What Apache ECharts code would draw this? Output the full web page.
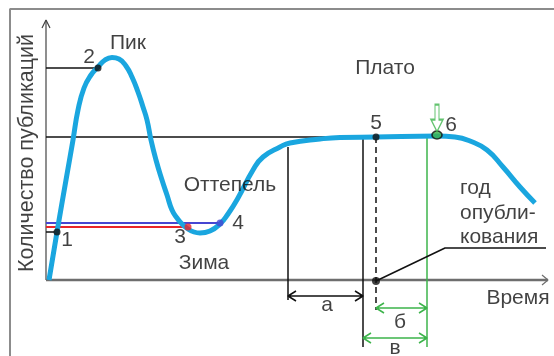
<!DOCTYPE html>
<html>
<head>
<meta charset="utf-8">
<script src="https://cdn.jsdelivr.net/npm/echarts@6/dist/echarts.min.js"></script>
<style>
  html, body { margin: 0; padding: 0; background: #fff; }
  #chart { width: 554px; height: 356px; }
</style>
</head>
<body>
<div id="chart"></div>
<script>
// life cycle curve of a topic: time vs number of publications
var curveTime  = [3, 11, 20, 27, 32, 38, 45, 52, 59, 66, 73, 80, 86, 92, 97, 101, 105, 110, 116, 121,
                  126, 131, 136, 142, 148, 154, 164, 174, 182, 192, 207, 217, 234, 244, 274, 294, 330, 391,
                  409, 424, 441, 457, 474, 489];
var curveCount = [0, 48, 100, 140, 170, 192, 205, 213, 220, 222.5, 221, 214, 203, 188, 173, 160, 140, 120, 100, 85,
                  70, 62, 56, 51, 48, 47, 49, 56, 66, 82, 110, 123, 133, 137, 141, 142.5, 143, 144,
                  143, 139, 130, 113, 93, 77];

// numbered points on the curve
var pointNames = ['1', '2', '3', '4', '5', '6'];
var pointTime  = [11, 52, 142, 174, 330, 391];
var pointCount = [48, 212, 53, 57, 143, 145];

// intervals under the axis
var spanNames = ['а', 'б', 'в'];
var spanFrom  = [242, 330, 317];
var spanTo    = [317, 381, 381];

var phaseNames = ['Пик', 'Зима', 'Оттепель', 'Плато'];
var axisNames  = ['Количество публикаций', 'Время'];
var yearLines  = ['год', 'опубли-', 'кования'];

var BLUE = '#1aa6df', GREEN = '#3cb44b', RED = '#e8262a', VIOLET = '#4646d2', INK = '#111';
var FONT = 'Liberation Sans, Arial, sans-serif';

function poly(pts, color, width, dash, z) {
  return {
    type: 'line', data: pts, symbol: 'none', showSymbol: false, silent: true, clip: false,
    lineStyle: { color: color, width: width, type: dash ? [6, 4] : 'solid' },
    z: z || 2
  };
}
function dblArrow(x1, x2, y, color) {
  var h = 8, w = 5;
  return poly([[x1 + h, y + w], [x1, y], [x1 + h, y - w], [x1, y], [x2, y],
               [x2 - h, y + w], [x2, y], [x2 - h, y - w]], color, 1.5);
}

var curve = curveTime.map(function (t, i) { return [t, curveCount[i]]; });
var dotColors = [INK, INK, RED, VIOLET, INK, GREEN];

var series = [];
// picture frame (left and top edges)
series.push(poly([[-36, -80], [-36, 271], [512, 271]], '#8c8c8c', 2, false, 1));
// axes
series.push(poly([[0, 0], [0, 260]], '#444', 1.2));
series.push(poly([[-4, 252], [0, 260], [4, 252]], '#444', 1.2));
series.push(poly([[0, 0], [502, 0]], '#6e6e6e', 2.5));
series.push(poly([[496, 5], [502, 0], [496, -5]], '#6e6e6e', 1.2));
// levels
series.push(poly([[0, pointCount[1]], [pointTime[1], pointCount[1]]], INK, 1.5));
series.push(poly([[0, pointCount[4]], [pointTime[5], pointCount[4]]], INK, 1.5));
series.push(poly([[0, pointCount[0]], [pointTime[0], pointCount[0]]], INK, 1.5));
series.push(poly([[0, pointCount[2]], [pointTime[2], pointCount[2]]], RED, 2));
series.push(poly([[0, pointCount[3]], [pointTime[3], pointCount[3]]], VIOLET, 2));
// verticals
series.push(poly([[spanFrom[0], 133], [spanFrom[0], -20]], INK, 1.5));
series.push(poly([[spanTo[0], pointCount[4]], [spanTo[0], -67]], INK, 1.5));
series.push(poly([[pointTime[4], pointCount[4]], [pointTime[4], -30]], INK, 1.5, true));
series.push(poly([[spanTo[1], pointCount[4]], [spanTo[1], -67]], GREEN, 1.5));
// leader to "год опубликования"
series.push(poly([[pointTime[4], -1], [399, 32], [500, 32]], INK, 1.5));
// interval arrows
series.push(dblArrow(spanFrom[0], spanTo[0], -16, INK));
series.push(dblArrow(spanFrom[1], spanTo[1], -28, GREEN));
series.push(dblArrow(spanFrom[2], spanTo[2], -58, GREEN));
// the curve
series.push({
  type: 'line', data: curve, smooth: 0.5, symbol: 'none', silent: true,
  lineStyle: { color: BLUE, width: 5 }, z: 3
});
// dots
series.push({
  type: 'scatter', silent: true, z: 5, symbolSize: 7,
  data: pointTime.map(function (t, i) {
    return { value: [t, pointCount[i]], itemStyle: {
      color: dotColors[i], borderColor: INK, borderWidth: i === 5 ? 1.5 : 0 },
      symbolSize: i === 5 ? [10, 8] : 7 };
  }).concat([{ value: [pointTime[4], -1], itemStyle: { color: INK }, symbolSize: 8 }])
});
// green marker arrow above point 6
series.push({
  type: 'scatter', silent: true, z: 5,
  symbol: 'path://M4,0 L8,0 L8,15 L12,15 L6,27 L0,15 L4,15 Z',
  symbolSize: [12, 27],
  itemStyle: { color: '#fff', borderColor: GREEN, borderWidth: 1.5 },
  data: [[pointTime[5], 162]]
});

// text
function texts(items, align, rotate, size) {
  return {
    type: 'scatter', silent: true, z: 6, symbolSize: 1,
    itemStyle: { color: 'rgba(0,0,0,0)' },
    label: {
      show: true, position: 'inside', align: align, rotate: rotate || 0,
      color: INK, fontFamily: FONT, fontSize: size || 21,
      formatter: function (p) { return p.value[2]; }
    },
    data: items
  };
}
series.push(texts([
  [43, 223, pointNames[1]], [21, 40, pointNames[0]], [134, 43, pointNames[2]],
  [192, 57, pointNames[3]], [330, 157, pointNames[4]], [405, 155, pointNames[5]],
  [82, 237, phaseNames[0]], [158, 17, phaseNames[1]], [184, 95, phaseNames[2]],
  [339, 212, phaseNames[3]],
  [281, -25, spanNames[0]], [354, -42, spanNames[1]], [349, -68, spanNames[2]],
  [472, -18, axisNames[1]]
], 'center'));
series.push(texts([
  [414, 92, yearLines[0]], [414, 67, yearLines[1]], [414, 43, yearLines[2]]
], 'left'));
series.push(texts([[-19, 127, axisNames[0]]], 'center', 90, 21.5));

var chart = echarts.init(document.getElementById('chart'));
chart.setOption({
  animation: false,
  grid: { left: 10, right: 0, top: 9, bottom: 0 },
  xAxis: { type: 'value', min: -36, max: 508, show: false },
  yAxis: { type: 'value', min: -76, max: 271, show: false },
  series: series
});
</script>
</body>
</html>
